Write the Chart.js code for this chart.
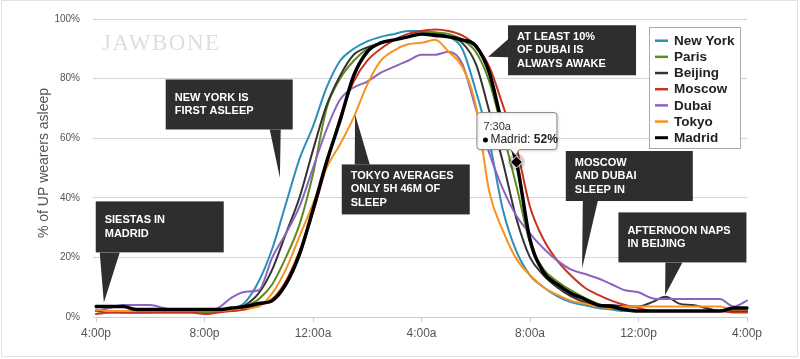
<!DOCTYPE html>
<html>
<head>
<meta charset="utf-8">
<script src="https://cdn.jsdelivr.net/npm/chart.js@4.4.1/dist/chart.umd.min.js"></script>
<style>
  body { margin: 0; background: #fff; }
  #wrap { position: relative; width: 800px; height: 359px; }
</style>
</head>
<body>
<div id="wrap"><canvas id="sleepChart"></canvas></div>
<script>
// half-hour samples, 4pm to 4pm
const times = ['4:00p','4:30p','5:00p','5:30p','6:00p','6:30p','7:00p','7:30p','8:00p','8:30p',
  '9:00p','9:30p','10:00p','10:30p','11:00p','11:30p','12:00a','12:30a','1:00a','1:30a',
  '2:00a','2:30a','3:00a','3:30a','4:00a','4:30a','5:00a','5:30a','6:00a','6:30a',
  '7:00a','7:30a','8:00a','8:30a','9:00a','9:30a','10:00a','10:30a','11:00a','11:30a',
  '12:00p','12:30p','1:00p','1:30p','2:00p','2:30p','3:00p','3:30p','4:00p'];

const yTicks = [0, 20, 40, 60, 80, 100];

const newYork = [2,2,1.5,1.5,1.5,2,2,2,2,2, 2.5,5,12,23,38,53,64,77,86,90,
  92.5,94,95,96,96,95.5,94,90,76,59, 36,22,14,10,7,5,4,3,2.5,2, 2,2,2,2,2,2,2,2,2];
const paris = [2,1.5,1.5,1.5,1.5,1.5,1.5,1.5,1.5,2, 2.5,3.5,6,11,20,31,48,70,80,86,
  90,92,93,94,95,95.5,95,93,89,79, 62,44,25,16,12,9,6.5,4.5,3,2.5, 2,2,2,2,2,2,2,3,2];
const beijing = [2,2,2,2,2,2,2,2,2,2, 2.5,4,8,16,28,40,56,71,81,88,
  90.5,92,93,94,95,95,94,92,85,69, 52,33,20,14,10,7,5,4,4,3.5, 3.5,5,6.8,4.5,4,3,2,2,2];
const moscow = [1,1.5,1.5,1.5,1.5,1.5,1.5,1.5,1,1.5, 2,2.5,4,6,12,22,35,51,67,79,
  86,90,93,95,96,96.5,96,94.5,91,84, 71,57,37,26,19,14,10,7.5,5.5,4, 3,2,2,2,2,2,2,1.5,1.5];
const dubai = [2,3,4,4,4,3,2,2.5,2,3, 6.5,8.5,9,20,28,37,50,63,73,77,
  79,82,84,86,88,88,89,85,70,55, 43,34,28,23,19,16,14.5,13,11,9, 8.3,6.3,6,6,6,6,6,3.5,5.5];
const tokyo = [2.5,2,2,2,2,2,2,2,2,2, 2.5,3,3.5,8,16,27,38,50,58,67,
  78,86,89.5,91.5,92,93,89,84,71,42, 29,19.5,14,10,7.5,5.5,4.5,3.5,3,3.5, 3.5,3.5,3.5,3.5,3.5,3.5,3.5,2.5,2.5];
const madrid = [3.5,3.5,3.5,2.5,2.5,2.5,2.5,2.5,2.5,2.5, 3,3.5,4.5,5.5,11,21,36,52,66,81,
  89,92,93,94,95,94.5,94,93,91,82, 64,52,26,15,11,8,6,4,3.5,2.5, 2,2,2,2,2,2,2,3,3];

const FONT = "'Liberation Sans', Arial, Helvetica, sans-serif";
Chart.defaults.font.family = FONT;

// callout boxes: top-left in [hours, percent], pointer tip in [hours, percent]
const callouts = [
  { lines: ['NEW YORK IS', 'FIRST ASLEEP'], at: [2.57, 79.7], w: 127, h: 50, base: [[104, 50], [115, 50]], tip: [6.78, 46.7] },
  { lines: ['SIESTAS IN', 'MADRID'], at: [-0.01, 38.8], w: 128, h: 51, base: [[4, 51], [24, 51]], tip: [0.29, 4.8] },
  { lines: ['TOKYO AVERAGES', 'ONLY 5H 46M OF', 'SLEEP'], at: [9.06, 51.2], w: 128, h: 50, base: [[13, 0], [28, 0]], tip: [9.55, 68] },
  { lines: ['AT LEAST 10%', 'OF DUBAI IS', 'ALWAYS AWAKE'], at: [15.19, 97.9], w: 128, h: 50, base: [[0, 14], [0, 32]], tip: [14.46, 87.3] },
  { lines: ['MOSCOW', 'AND DUBAI', 'SLEEP IN'], at: [17.32, 55.7], w: 127, h: 50, base: [[17, 50], [32, 50]], tip: [17.92, 16.3] },
  { lines: ['AFTERNOON NAPS', 'IN BEIJING'], at: [19.26, 35.1], w: 128, h: 50, base: [[47, 50], [64, 50]], tip: [20.98, 7.3] }
];

const hoverSeries = 6;   // Madrid
const hoverIndex = 31;   // 7:30a

const extras = {
  id: 'extras',
  beforeDatasetsDraw(chart) {
    const ctx = chart.ctx;
    ctx.save();
    // frame
    ctx.strokeStyle = '#e2e2e2';
    ctx.lineWidth = 1;
    ctx.strokeRect(1.5, 0.5, 796, 356);
    // watermark
    ctx.fillStyle = '#dedede';
    ctx.font = "23px 'Liberation Serif', 'DejaVu Serif', serif";
    ctx.letterSpacing = '1.5px';
    ctx.textBaseline = 'alphabetic';
    ctx.fillText('JAWBONE', 102, 50);
    ctx.letterSpacing = '0px';
    // y title
    ctx.translate(44, 163);
    ctx.rotate(-Math.PI / 2);
    ctx.fillStyle = '#555';
    ctx.font = '14px ' + FONT;
    ctx.textAlign = 'center';
    ctx.textBaseline = 'middle';
    ctx.fillText('% of UP wearers asleep', 0, 0);
    ctx.restore();
  },
  afterDatasetsDraw(chart) {
    const ctx = chart.ctx;
    const xs = chart.scales.x, ys = chart.scales.y;

    // callouts
    callouts.forEach(c => {
      const left = xs.getPixelForValue(c.at[0] * 2);
      const top = ys.getPixelForValue(c.at[1]);
      const tx = xs.getPixelForValue(c.tip[0] * 2);
      const ty = ys.getPixelForValue(c.tip[1]);
      ctx.save();
      ctx.fillStyle = '#2e2e2e';
      ctx.fillRect(left, top, c.w, c.h);
      ctx.beginPath();
      ctx.moveTo(left + c.base[0][0], top + c.base[0][1]);
      ctx.lineTo(tx, ty);
      ctx.lineTo(left + c.base[1][0], top + c.base[1][1]);
      ctx.closePath();
      ctx.fill();
      ctx.fillStyle = '#fff';
      ctx.font = 'bold 11px ' + FONT;
      ctx.textBaseline = 'middle';
      const lh = 13.5;
      const y0 = top + c.h / 2 - (c.lines.length - 1) * lh / 2;
      c.lines.forEach((t, i) => ctx.fillText(t, left + 9, y0 + i * lh));
      ctx.restore();
    });

    // legend
    ctx.save();
    ctx.fillStyle = '#fff';
    ctx.fillRect(649, 27, 92, 122);
    ctx.strokeStyle = '#aaa';
    ctx.lineWidth = 1;
    ctx.strokeRect(649.5, 27.5, 91, 121);
    chart.data.datasets.forEach((ds, i) => {
      const y = 40.7 + i * 16.17;
      ctx.strokeStyle = ds.borderColor;
      ctx.lineWidth = ds.label === 'Madrid' ? 3 : 2.5;
      ctx.beginPath();
      ctx.moveTo(655, y);
      ctx.lineTo(668, y);
      ctx.stroke();
      ctx.fillStyle = '#222';
      ctx.font = 'bold 13.5px ' + FONT;
      ctx.textBaseline = 'middle';
      ctx.fillText(ds.label, 674, y + 0.5);
    });
    ctx.restore();

    // hover marker + tooltip
    const pt = chart.getDatasetMeta(hoverSeries).data[hoverIndex];
    const px = pt.x, py = pt.y;
    const ds = chart.data.datasets[hoverSeries];
    ctx.save();
    ctx.fillStyle = 'rgba(0,0,0,0.18)';
    ctx.beginPath();
    ctx.arc(px, py, 8.5, 0, Math.PI * 2);
    ctx.fill();
    ctx.beginPath();
    ctx.moveTo(px, py - 6);
    ctx.lineTo(px + 6, py);
    ctx.lineTo(px, py + 6);
    ctx.lineTo(px - 6, py);
    ctx.closePath();
    ctx.fillStyle = '#000';
    ctx.fill();
    ctx.strokeStyle = '#fff';
    ctx.lineWidth = 1;
    ctx.stroke();

    const bw = 80, bh = 37;
    const bl = px - 40, bt = py - 50;
    ctx.shadowColor = 'rgba(0,0,0,0.15)';
    ctx.shadowBlur = 3;
    ctx.shadowOffsetX = 1;
    ctx.shadowOffsetY = 1;
    ctx.fillStyle = 'rgba(255,255,255,0.97)';
    ctx.strokeStyle = '#8a8a8a';
    ctx.beginPath();
    ctx.roundRect(bl + 0.5, bt + 0.5, bw, bh, 3);
    ctx.fill();
    ctx.stroke();
    ctx.shadowColor = 'transparent';
    ctx.beginPath();
    ctx.moveTo(px - 6, bt + bh);
    ctx.lineTo(px - 1, bt + bh + 6);
    ctx.lineTo(px + 3, bt + bh);
    ctx.closePath();
    ctx.fill();
    ctx.beginPath();
    ctx.moveTo(px - 6, bt + bh + 0.5);
    ctx.lineTo(px - 1, bt + bh + 6);
    ctx.lineTo(px + 3, bt + bh + 0.5);
    ctx.stroke();

    ctx.fillStyle = '#333';
    ctx.textBaseline = 'middle';
    ctx.font = '11px ' + FONT;
    ctx.fillText(times[hoverIndex], bl + 7, bt + 15);
    ctx.fillStyle = ds.borderColor;
    ctx.beginPath();
    ctx.arc(bl + 9, bt + 28, 2.5, 0, Math.PI * 2);
    ctx.fill();
    ctx.fillStyle = '#222';
    ctx.font = '12px ' + FONT;
    const name = ds.label + ': ';
    ctx.fillText(name, bl + 14, bt + 28);
    const w = ctx.measureText(name).width;
    ctx.font = 'bold 12px ' + FONT;
    ctx.fillText(ds.data[hoverIndex] + '%', bl + 14 + w, bt + 28);
    ctx.restore();
  }
};

const ctx = document.getElementById('sleepChart').getContext('2d');

const sleepChart = new Chart(ctx, {
  type: 'line',
  data: {
    labels: times,
    datasets: [
      { label: 'New York', data: newYork, borderColor: '#2b8fb6', borderWidth: 2, order: 6 },
      { label: 'Paris', data: paris, borderColor: '#5f8a1c', borderWidth: 2, order: 5 },
      { label: 'Beijing', data: beijing, borderColor: '#333333', borderWidth: 2, order: 4 },
      { label: 'Moscow', data: moscow, borderColor: '#c8321f', borderWidth: 2, order: 3 },
      { label: 'Dubai', data: dubai, borderColor: '#8c63c0', borderWidth: 2, order: 2 },
      { label: 'Tokyo', data: tokyo, borderColor: '#f7931e', borderWidth: 2, order: 1 },
      { label: 'Madrid', data: madrid, borderColor: '#000000', borderWidth: 3.5, order: 0 }
    ]
  },
  options: {
    animation: false,
    responsive: true,
    maintainAspectRatio: false,
    layout: { padding: { top: 17, right: 53, bottom: 0, left: 0 } },
    elements: {
      point: { radius: 0, hoverRadius: 0 },
      line: { cubicInterpolationMode: 'monotone', borderJoinStyle: 'round', borderCapStyle: 'round' }
    },
    events: [],
    plugins: {
      legend: { display: false },
      tooltip: { enabled: false }
    },
    scales: {
      x: {
        type: 'category',
        offset: false,
        grid: { drawOnChartArea: false, color: '#c0d0e0', tickLength: 5 },
        border: { color: '#c0d0e0' },
        ticks: { autoSkip: false, maxRotation: 0, color: '#555', font: { size: 12 }, padding: 4 },
        afterBuildTicks: s => { s.ticks = s.ticks.filter(t => t.value % 8 === 0); },
        afterFit: s => { s.height = 42; }
      },
      y: {
        min: yTicks[0],
        max: yTicks[yTicks.length - 1],
        ticks: { stepSize: 20, callback: v => v + '%', color: '#555', font: { size: 10 }, padding: 13 },
        grid: { color: '#d4d4d4', tickLength: 3 },
        border: { display: false },
        afterFit: s => { s.width = 96; }
      }
    }
  },
  plugins: [extras]
});
</script>
</body>
</html>
